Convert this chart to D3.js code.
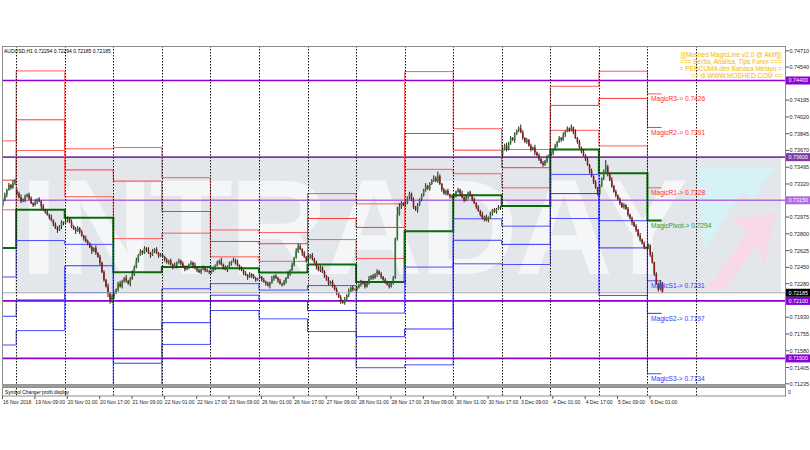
<!DOCTYPE html>
<html>
<head>
<meta charset="utf-8">
<script src="https://cdn.jsdelivr.net/npm/d3@7"></script>
<style>
  body { margin: 0; background: #fff; }
  svg { display: block; }
  text { font-family: "Liberation Sans", Arial, sans-serif; }
</style>
</head>
<body>
<svg id="chart" width="810" height="450"></svg>
<script>
// AUDUSD H1, 16 Nov 2018 17:00 .. 6 Dec 2018 07:00, prices in pips above 0.7100
var dayNames = ['16 Nov', '19 Nov', '20 Nov', '21 Nov', '22 Nov', '23 Nov', '26 Nov', '27 Nov',
  '28 Nov', '29 Nov', '30 Nov', '3 Dec', '4 Dec', '5 Dec', '6 Dec'];
var dayStart = [0, 7, 31, 55, 79, 103, 127, 151, 175, 199, 223, 247, 271, 295, 319];
var separatorBars = [7, 31, 55, 79, 103, 127, 151, 175, 199, 223, 247, 271, 295, 319, 343];

var closesByDay = [
  [215, 221, 226, 231, 228, 233, 235],
  [222, 218, 214, 216, 219, 221, 217, 212, 210, 213, 216, 214, 209, 205, 203, 200, 197, 194, 190, 186, 184, 188, 192, 191],
  [194, 196, 192, 188, 185, 183, 186, 182, 178, 175, 172, 170, 166, 162, 165, 160, 156, 150, 140, 132, 125, 118, 110, 115],
  [118, 122, 128, 125, 130, 134, 131, 128, 133, 138, 145, 152, 158, 162, 160, 165, 163, 160, 158, 162, 164, 160, 157, 158],
  [156, 153, 150, 152, 148, 145, 147, 150, 152, 149, 146, 143, 145, 148, 150, 147, 144, 142, 140, 143, 145, 142, 141, 140],
  [141, 144, 147, 150, 152, 148, 145, 143, 146, 149, 151, 153, 150, 147, 144, 142, 139, 137, 135, 138, 136, 134, 132, 133],
  [135, 132, 130, 128, 126, 129, 133, 136, 134, 131, 128, 127, 130, 134, 138, 142, 148, 155, 162, 167, 164, 160, 156, 152],
  [155, 158, 154, 150, 146, 142, 145, 140, 136, 132, 128, 130, 126, 122, 118, 114, 110, 108, 112, 116, 120, 124, 122, 122],
  [124, 127, 130, 128, 125, 129, 133, 136, 134, 138, 141, 138, 135, 132, 130, 127, 125, 129, 134, 175, 200, 208, 212, 210],
  [212, 218, 222, 215, 208, 205, 210, 216, 220, 226, 230, 227, 232, 236, 238, 235, 240, 232, 226, 222, 225, 221, 219, 218],
  [220, 224, 226, 222, 218, 215, 219, 223, 220, 216, 212, 208, 204, 200, 196, 198, 194, 197, 201, 205, 203, 206, 208, 207],
  [268, 272, 268, 275, 280, 278, 284, 288, 290, 286, 280, 276, 278, 272, 268, 270, 265, 262, 258, 254, 252, 256, 260, 262],
  [264, 268, 272, 276, 280, 278, 283, 287, 290, 288, 291, 286, 280, 276, 270, 266, 262, 258, 252, 246, 240, 234, 228, 222],
  [230, 238, 245, 250, 242, 236, 230, 224, 220, 216, 212, 208, 210, 206, 200, 196, 192, 188, 184, 178, 174, 170, 166, 165],
  [168, 158, 150, 138, 128, 122, 129.4, 118.5]
];
// upper / lower wick lengths in pips, one digit per bar
var upperWicks = ['3212132', '323121221312121213122121', '621312212132121312121312', '212321312423121213121212',
  '212121312121212131212121', '121213121212131212121211', '212121312121213121332121', '312121212131212121213121',
  '212121312121212121218421', '212131212131213252121212', '212131212121213121212121', '323121212421212131212121',
  '212121312131312121212121', '212721312121212121213121', '21312120'];
var lowerWicks = ['2131212', '212131212121312121213132', '121213121212131213121432', '312121213121212121312121',
  '121212131212121312121212', '212121213121212121312121', '121213121212121212121312', '212131212121212131212121',
  '212121212131212121212121', '212121312121212121212121', '121212131212121312121212', '212121312121212131212121',
  '121212121212121212131212', '212121212121212131212121', '12121210'];
var firstOpen = 210;
var gapOpens = { 7: 224, 127: 134, 247: 262 };

// MagicLine daily levels
var r3 = [0.73770, 0.74500, 0.73687, 0.73700, 0.73386, 0.72840, 0.72813, 0.73220, 0.73113, 0.74493, 0.73897, 0.73680, 0.74340, 0.74497, 0.7426];
var r2 = [0.73360, 0.73990, 0.73467, 0.73350, 0.73033, 0.72720, 0.72697, 0.72960, 0.72867, 0.73847, 0.73673, 0.73490, 0.74140, 0.74213, 0.7391];
var r1 = [0.73051, 0.73670, 0.73187, 0.72750, 0.72807, 0.72560, 0.72513, 0.72740, 0.72543, 0.73473, 0.73427, 0.73280, 0.73880, 0.73717, 0.7328];
var pivot = [0.72653, 0.73050, 0.72967, 0.72400, 0.72453, 0.72440, 0.72397, 0.72480, 0.72297, 0.72827, 0.73203, 0.73090, 0.73680, 0.73433, 0.7294];
var s1 = [0.72350, 0.72730, 0.72690, 0.71800, 0.72227, 0.72280, 0.72213, 0.72260, 0.71973, 0.72453, 0.72957, 0.72880, 0.73420, 0.72937, 0.7231];
var s2 = [0.71940, 0.72110, 0.72467, 0.71450, 0.71873, 0.72160, 0.72097, 0.72000, 0.71727, 0.71807, 0.72733, 0.72690, 0.73220, 0.72653, 0.7197];
var s3 = [0.71640, 0.71790, 0.72187, 0.70850, 0.71646, 0.72000, 0.71913, 0.71780, 0.71403, 0.71433, 0.72487, 0.72480, 0.72960, 0.72157, 0.7134];

var fixedLevels = [0.74400, 0.73600, 0.73150, 0.72100, 0.71500];
var fixedColors = ['#8a00d6', '#7d3aa6', '#b06ae0', '#8a00d6', '#8a00d6'];
var bidPrice = 0.72185;
var yTicks = [0.74710, 0.74540, 0.74195, 0.74020, 0.73845, 0.73670, 0.73495, 0.73320, 0.72975, 0.72800,
  0.72625, 0.72450, 0.72280, 0.71930, 0.71755, 0.71580, 0.71405, 0.71235];
var timeLabels = ['16 Nov 2018', '19 Nov 09:00', '20 Nov 01:00', '20 Nov 17:00', '21 Nov 09:00', '22 Nov 01:00',
  '22 Nov 17:00', '23 Nov 09:00', '26 Nov 01:00', '26 Nov 17:00', '27 Nov 09:00', '28 Nov 01:00', '28 Nov 17:00',
  '29 Nov 09:00', '30 Nov 01:00', '30 Nov 17:00', '3 Dec 09:00', '4 Dec 01:00', '4 Dec 17:00', '5 Dec 09:00', '6 Dec 01:00'];
var timeLabelBars = [0, 16, 32, 48, 64, 80, 96, 112, 128, 144, 160, 176, 192, 208, 224, 240, 256, 272, 288, 304, 320];
var infoLines = ['||[Moshed MagicLine v2.0 @ Aktif]||', '=== Berita, Analisa, Tips Forex ===',
  '= PERCUMA dlm Bahasa Melayu =', '=> di WWW.MOSHED.COM <='];

// build bars
var bars = [];
closesByDay.forEach(function (day, d) {
  day.forEach(function (c, k) {
    var i = bars.length;
    var o = i === 0 ? firstOpen : (gapOpens[i] !== undefined ? gapOpens[i] : bars[i - 1].c);
    var up = +upperWicks[d][k], lo = +lowerWicks[d][k];
    bars.push({ i: i, o: o, c: c, h: Math.max(o, c) + up, l: Math.min(o, c) - lo });
  });
});
var lastBar = bars.length - 1;
var px = function (p) { return 0.71 + p / 10000; };

var plotL = 2, plotR = 786, plotT = 46, plotB = 384;
var svg = d3.select('#chart');
var x = d3.scaleLinear().domain([0, 387]).range([2, 785]);
var y = d3.scaleLinear().domain([0.71233, 0.74760]).range([plotB, plotT]);

svg.append('rect').attr('width', 810).attr('height', 450).attr('fill', '#fff');
svg.append('clipPath').attr('id', 'plot')
  .append('rect').attr('x', plotL).attr('y', plotT).attr('width', plotR - plotL).attr('height', plotB - plotT);
var g = svg.append('g').attr('clip-path', 'url(#plot)');

// watermark
g.append('rect').attr('x', 15).attr('y', 157).attr('width', 766).attr('height', 135).attr('fill', '#e3e6ea');
g.append('polygon').attr('points', '696,168 774,168 752,200 742,192 704,250').attr('fill', '#d6f2f6');
g.append('polygon').attr('points', '706,290 724,290 758,244 764,266 776,212 732,220 748,232').attr('fill', '#f8d9ea');
g.append('text').attr('x', 20).attr('y', 274)
  .attr('font-size', 136).attr('font-weight', 'bold')
  .attr('textLength', 668).attr('lengthAdjust', 'spacing')
  .attr('fill', '#f5f6f8').text('INTRADAY');

// day separators
svg.selectAll('.sep').data(separatorBars).enter().append('line')
  .attr('x1', d => Math.round(x(d)) + 0.5).attr('x2', d => Math.round(x(d)) + 0.5)
  .attr('y1', plotT).attr('y2', 396)
  .attr('stroke', '#111').attr('stroke-width', 1).attr('stroke-dasharray', '1.5,1.5');

// fixed horizontal levels
g.selectAll('.fixed').data(fixedLevels).enter().append('line')
  .attr('x1', plotL).attr('x2', plotR)
  .attr('y1', d => y(d)).attr('y2', d => y(d))
  .attr('stroke', (d, i) => fixedColors[i]).attr('stroke-width', 1.6);

// MagicLine levels
var levelDefs = [
  { name: 'MagicR3', vals: r3, color: '#ff5a5a', text: '#ff2e2e', w: 1 },
  { name: 'MagicR2', vals: r2, color: '#ff3838', text: '#ff2e2e', w: 1 },
  { name: 'MagicR1', vals: r1, color: '#ff5a5a', text: '#ff2e2e', w: 1 },
  { name: 'MagicPivot', vals: pivot, color: '#0b6a0b', text: '#22a022', w: 2 },
  { name: 'MagicS1', vals: s1, color: '#4c4cff', text: '#3636ff', w: 1 },
  { name: 'MagicS2', vals: s2, color: '#3535ff', text: '#3636ff', w: 1 },
  { name: 'MagicS3', vals: s3, color: '#4c4cff', text: '#3636ff', w: 1 }
];
var stepLine = d3.line().x(d => x(d[0])).y(d => y(d[1])).curve(d3.curveStepAfter);
levelDefs.forEach(function (lv) {
  var pts = dayStart.map((b, k) => [b, lv.vals[k]]);
  pts.push([lastBar, lv.vals[lv.vals.length - 1]]);
  g.append('path').attr('d', stepLine(pts)).attr('fill', 'none')
    .attr('stroke', lv.color).attr('stroke-width', lv.w);
});

// candles
var cg = g.append('g');
cg.selectAll('.wick').data(bars).enter().append('line')
  .attr('x1', d => x(d.i) + 0.8).attr('x2', d => x(d.i) + 0.8)
  .attr('y1', d => y(px(d.h))).attr('y2', d => y(px(d.l)))
  .attr('stroke', '#222').attr('stroke-width', 1);
cg.selectAll('.body').data(bars).enter().append('rect')
  .attr('x', d => x(d.i)).attr('width', 1.6)
  .attr('y', d => y(px(Math.max(d.o, d.c))))
  .attr('height', d => Math.max(0.8, y(px(Math.min(d.o, d.c))) - y(px(Math.max(d.o, d.c)))))
  .attr('fill', d => d.c >= d.o ? '#2f7a2f' : '#8b1a1a');

// bid line
g.append('line').attr('x1', plotL).attr('x2', plotR).attr('y1', y(bidPrice)).attr('y2', y(bidPrice))
  .attr('stroke', '#a8a8a8').attr('stroke-width', 1);

// level labels for the current day
levelDefs.forEach(function (lv) {
  var v = lv.vals[lv.vals.length - 1];
  svg.append('text').attr('x', 651).attr('y', y(v) + 7.5)
    .attr('font-size', 6.6).attr('fill', lv.text)
    .text(lv.name + '-> ' + v.toFixed(4));
});

// info texts
svg.append('text').attr('x', 4).attr('y', 52.5).attr('font-size', 5).attr('fill', '#000')
  .text('AUDUSD,H1  0.72294 0.72294 0.72185 0.72185');
svg.selectAll('.info').data(infoLines).enter().append('text')
  .attr('x', 782).attr('y', (d, i) => 57 + i * 7)
  .attr('text-anchor', 'end').attr('font-size', 6.5).attr('fill', '#f2b705')
  .text(d => d);

// frame + sub window
svg.append('rect').attr('x', plotL + 0.5).attr('y', plotT + 0.5).attr('width', plotR - plotL - 1).attr('height', plotB - plotT)
  .attr('fill', 'none').attr('stroke', '#8c8c8c');
svg.append('rect').attr('x', plotL).attr('y', plotB + 0.5).attr('width', plotR - plotL).attr('height', 2.5).attr('fill', '#9c9c9c');
svg.append('rect').attr('x', plotL + 0.5).attr('y', 387.5).attr('width', plotR - plotL - 1).attr('height', 8.5)
  .attr('fill', 'none').attr('stroke', '#8c8c8c');
svg.append('text').attr('x', 5).attr('y', 393.8).attr('font-size', 4.8).attr('fill', '#000')
  .text('Symbol Changer profit display');
svg.append('text').attr('x', 788).attr('y', 394).attr('font-size', 5).attr('fill', '#222').text('0');

// right price axis
var yAxis = svg.append('g');
yAxis.selectAll('.tick').data(yTicks).enter().append('line')
  .attr('x1', plotR).attr('x2', plotR + 3).attr('y1', d => y(d)).attr('y2', d => y(d))
  .attr('stroke', '#555');
yAxis.selectAll('.lbl').data(yTicks).enter().append('text')
  .attr('x', plotR + 3.5).attr('y', d => y(d) + 2)
  .attr('font-size', 5.4).attr('fill', '#222').text(d => d.toFixed(5));
fixedLevels.forEach(function (v, i) {
  svg.append('rect').attr('x', plotR).attr('y', y(v) - 4).attr('width', 24).attr('height', 8).attr('fill', fixedColors[i]);
  svg.append('text').attr('x', plotR + 2.5).attr('y', y(v) + 2).attr('font-size', 5.4).attr('fill', '#fff').text(v.toFixed(5));
});
svg.append('rect').attr('x', plotR).attr('y', y(bidPrice) - 4).attr('width', 24).attr('height', 8).attr('fill', '#000');
svg.append('text').attr('x', plotR + 2.5).attr('y', y(bidPrice) + 2).attr('font-size', 5.4).attr('fill', '#fff').text(bidPrice.toFixed(5));

// time axis
svg.selectAll('.tt').data(timeLabelBars).enter().append('line')
  .attr('x1', d => x(d) + 0.5).attr('x2', d => x(d) + 0.5).attr('y1', 396).attr('y2', 399)
  .attr('stroke', '#555');
svg.selectAll('.tl').data(timeLabels).enter().append('text')
  .attr('x', (d, i) => x(timeLabelBars[i]) + 1).attr('y', 403.5)
  .attr('font-size', 5).attr('fill', '#222').text(d => d);
</script>
</body>
</html>
